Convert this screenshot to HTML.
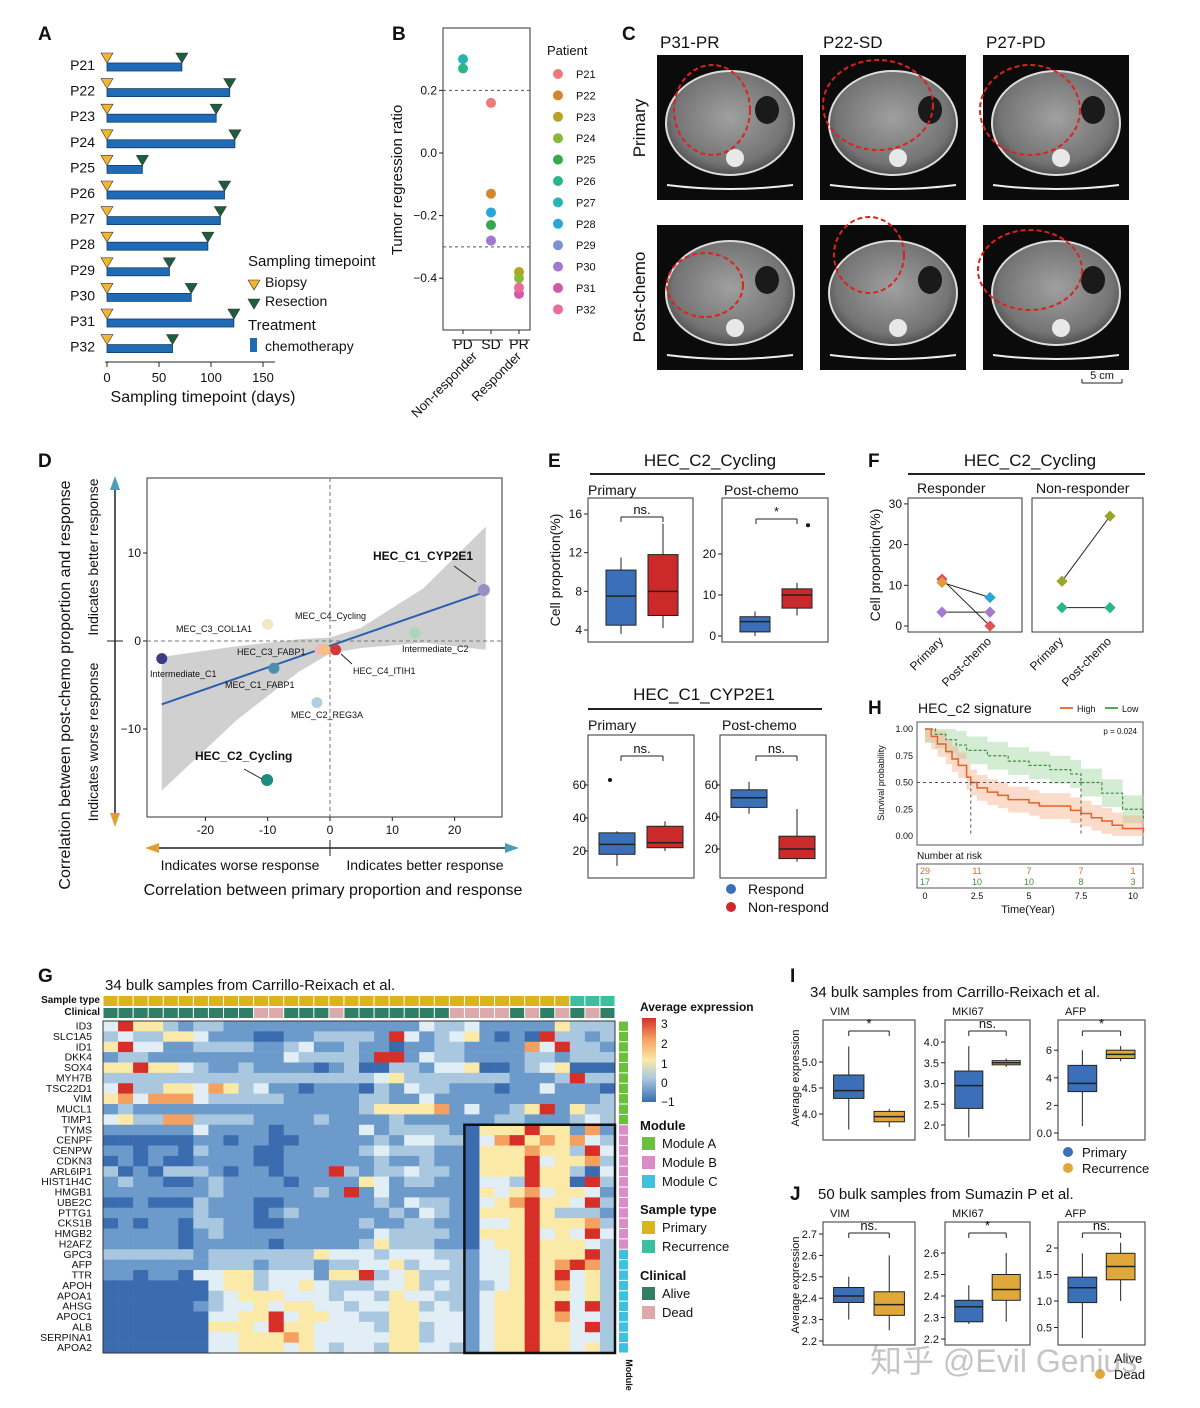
<!DOCTYPE html>
<html><head><meta charset="utf-8">
<style>
html,body{margin:0;padding:0;background:#fff;}
svg{display:block;font-family:"Liberation Sans","Noto Sans CJK SC",sans-serif;}
</style></head>
<body>
<svg id="fig" xmlns="http://www.w3.org/2000/svg" width="1200" height="1408" viewBox="0 0 1200 1408">
<defs>
<radialGradient id="ctg" cx="50%" cy="45%" r="55%"><stop offset="0" stop-color="#a0a0a0"/><stop offset="0.8" stop-color="#747474"/><stop offset="1" stop-color="#505050"/></radialGradient>
</defs>
</svg>
<script>
// ---------------- DATA ----------------
// Panel A
const aPatients=["P21","P22","P23","P24","P25","P26","P27","P28","P29","P30","P31","P32"];
const aDays=[72,118,105,123,34,113,109,97,60,81,122,63];
const aTicks=[0,50,100,150];
// Panel B
const bCats=["PD","SD","PR"];
const bPointCat=[1,1,2,2,1,0,0,1,1,1,2,2];
const bValues=[0.16,-0.13,-0.38,-0.40,-0.23,0.27,0.30,-0.19,-0.28,-0.28,-0.45,-0.43];
const bColors=["#ee7a78","#d6862a","#b5a426","#8ab83a","#34a853","#2bb58a","#26b5b0","#2aa5d8","#7b92d4","#a07ad0","#d05aa8","#ea6c9a"];
const bTicks=[0.2,0.0,-0.2,-0.4];
// Panel D
const dLabels=["Intermediate_C1","MEC_C3_COL1A1","HEC_C3_FABP1","MEC_C4_Cycling","MEC_C1_FABP1","HEC_C4_ITIH1","Intermediate_C2","MEC_C2_REG3A","HEC_C2_Cycling","HEC_C1_CYP2E1"];
const dX=[-27,-10,-9,-1.6,-0.8,0.9,13.6,-2.1,-10.1,24.7];
const dY=[-2,1.9,-3.1,-1,-1,-1,0.9,-7,-15.8,5.8];
const dColors=["#3b3b8a","#efe8c0","#4a8fb0","#f2b8b8","#f3c080","#d03a3a","#a8d8b8","#b0d0e2","#1f8a80","#9b8ec0"];
const dTicksX=[-20,-10,0,10,20];
const dTicksY=[10,0,-10];
// Panel E (box stats: min,q1,med,q3,max)
const e1Blue=[3.6,4.5,7.5,10.2,11.5], e1Red=[4.2,5.5,8,11.8,15];
const e2Blue=[0,1,3.5,4.7,6], e2Red=[5,6.8,10,11.5,13];
const e3Blue=[11,18,24,31,32], e3Red=[20,22,25,35,38];
const e4Blue=[42,46,52,57,62], e4Red=[12,14,20,28,45];
// Panel F
const fRespPrim=[11.5,10.7,3.4], fRespPost=[0,7,3.4], fRespCol=["#e0525a","#e39a3a","#a27ad0"], fRespPostCol=["#e0525a","#2aa5d8","#a27ad0"];
const fNonPrim=[11,4.5], fNonPost=[27,4.5], fNonCol=["#9aa52a","#2bb58a"];
// Panel H
const hHighT=[0,0.3,0.6,1,1.3,1.6,2,2.2,2.5,3,3.5,4,5,5.5,7,7.5,8,8.5,9,9.5,10.5];
const hHighS=[1,0.93,0.86,0.79,0.72,0.66,0.55,0.5,0.45,0.41,0.38,0.34,0.31,0.28,0.24,0.21,0.17,0.14,0.1,0.07,0.03];
const hLowT=[0,0.5,1,1.5,2,3,4,5,6,7,7.5,8.5,9.5,10.5];
const hLowS=[1,0.95,0.9,0.85,0.8,0.75,0.7,0.66,0.62,0.58,0.5,0.4,0.25,0.14];
const hRiskHigh=["29","11","7","7","1"], hRiskLow=["17","10","10","8","3"];
const hTicksX=[0,2.5,5,7.5,10], hTicksY=[1.00,0.75,0.50,0.25,0.00];
// Panel G
const gGenes=["ID3","SLC1A5","ID1","DKK4","SOX4","MYH7B","TSC22D1","VIM","MUCL1","TIMP1","TYMS","CENPF","CENPW","CDKN3","ARL6IP1","HIST1H4C","HMGB1","UBE2C","PTTG1","CKS1B","HMGB2","H2AFZ","GPC3","AFP","TTR","APOH","APOA1","AHSG","APOC1","ALB","SERPINA1","APOA2"];
const gSample="PPPPPPPPPPPPPPPPPPPPPPPPPPPPPPPRRR";
const gClinical="AAAAAAAAAADDAAADAAAAAAADDDDADADADA";
const gMatrix=[
"3644212211111111111113223111114222","2322443111001122221631234101062212","4633112222112311211011221111536221","1221111111113222216613221111221222","4464432112111101200221334001234000","2222222222222222223422222221112622","3622443542311011102132211101131110","4535553222221111122113111111111112","1211111111111111124444513112461422","3422552222111121111211111122111232",
"1111113111101111131222210444644151","0000001101100111112133220356454532","1101102111001111123222110444544263","0101001111001111112112110444634452","2010222101101116212232210444644203","1211001211110111143122110332644062","1111111211111121613111110434534431","0010002111001111112132210345644362","1111112111012111111213210444642221","0101102211001111121122110334644452","1111101211111111113222210444634363","1111101111101111124222110344644432",
"2222221222222243332333221334644462","1111111222122212233423321334645652","1101103344233314462342221334646342","0000000344233432223342321234645342","0000000234443332332433221344644342","0000001233434433233442321344646362","0000000334463443322443331344645332","0000000444364433332442331344644362","0000000334445433333442331344644332","0000000334443432332443321344644342"];
// Panels I, J (min,q1,med,q3,max)
const iVimP=[3.7,4.3,4.45,4.75,5.3], iVimR=[3.75,3.85,3.95,4.05,4.1];
const iMkiP=[1.7,2.4,2.95,3.3,3.9], iMkiR=[3.4,3.45,3.5,3.55,3.6];
const iAfpP=[0.5,3.0,3.6,4.9,6], iAfpR=[5.2,5.4,5.7,6,6.3];
const jVimA=[2.3,2.38,2.41,2.45,2.5], jVimD=[2.25,2.32,2.37,2.43,2.6];
const jMkiA=[2.27,2.28,2.35,2.38,2.45], jMkiD=[2.28,2.38,2.43,2.5,2.6];
const jAfpA=[0.3,0.97,1.25,1.45,1.9], jAfpD=[1.0,1.4,1.65,1.9,2.1];

// ---------------- HELPERS ----------------
const NS="http://www.w3.org/2000/svg";
const svg=document.getElementById('fig');
function add(tag,attrs,name,parent){
  const el=document.createElementNS(NS,tag);
  for(const k in attrs) el.setAttribute(k,attrs[k]);
  
  
  (parent||svg).appendChild(el);
  return el;
}
function tx(x,y,s,size,name,o){
  o=o||{};
  const a={x:x,y:y,'font-size':size,fill:o.fill||'#111'};
  if(o.anchor)a['text-anchor']=o.anchor;
  if(o.weight)a['font-weight']=o.weight;
  if(o.rot!==undefined)a.transform='rotate('+o.rot+' '+x+' '+y+')';
  const el=add('text',a,name);
  el.textContent=s;
  return el;
}
function ln(x1,y1,x2,y2,name,o){
  o=o||{};
  const a={x1:x1,y1:y1,x2:x2,y2:y2,stroke:o.stroke||'#222','stroke-width':o.w||1};
  if(o.dash)a['stroke-dasharray']=o.dash;
  return add('line',a,name);
}
function rc(x,y,w,h,name,o){
  o=o||{};
  const a={x:x,y:y,width:w,height:h,fill:o.fill||'none'};
  if(o.stroke){a.stroke=o.stroke;a['stroke-width']=o.w||1;}
  return add('rect',a,name);
}
function dot(x,y,r,fill,name,o){
  o=o||{};
  const a={cx:x,cy:y,r:r,fill:fill};
  if(o.stroke){a.stroke=o.stroke;a['stroke-width']=o.w||1;}
  return add('circle',a,name);
}
function box(stats,xc,w,ys,fill,name){
  const [mn,q1,md,q3,mx]=stats;
  ln(xc,ys(mx),xc,ys(q3),name+'-whisker-top');
  ln(xc,ys(q1),xc,ys(mn),name+'-whisker-bottom');
  rc(xc-w/2,ys(q3),w,ys(q1)-ys(q3),name,{fill:fill,stroke:'#222'});
  ln(xc-w/2,ys(md),xc+w/2,ys(md),name+'-median',{w:1.5});
}
function sig(x1,x2,y,label,name){
  ln(x1,y,x2,y,name+'-bracket');
  ln(x1,y,x1,y+5,name+'-bracket-l');
  ln(x2,y,x2,y+5,name+'-bracket-r');
  tx((x1+x2)/2,y-3,label,13,name,{anchor:'middle'});
}
function tri(x,y,down,fill,name){
  const p=down?`${x-6},${y-6} ${x+6},${y-6} ${x},${y+4}`:`${x-6},${y+4} ${x+6},${y+4} ${x},${y-6}`;
  return add('polygon',{points:p,fill:fill,stroke:'#333','stroke-width':0.6},name);
}

// ---------------- PANEL A ----------------
tx(38,40,'A',19,'panel-a-label',{weight:'bold'});
const ax=d=>107+d*1.04;
aPatients.forEach((p,i)=>{
  const y=66+i*25.6;
  tx(95,y+4,p,14,'patient-label',{anchor:'end'});
  rc(ax(0),y-3,ax(aDays[i])-ax(0),8,'treatment-bar',{fill:'#1f6bb5',stroke:'#133c66',w:0.8});
  tri(ax(0),y-7,true,'#f2b531','biopsy-marker');
  tri(ax(aDays[i]),y-7,true,'#1d5e3e','resection-marker');
});
ln(105,362,275,362,'x-axis-a');
aTicks.forEach(t=>{ln(ax(t),362,ax(t),367,'x-tick-a');tx(ax(t),382,String(t),13,'x-tick-label-a',{anchor:'middle'});});
tx(203,402,'Sampling timepoint (days)',16,'x-axis-title-a',{anchor:'middle'});
tx(248,266,'Sampling timepoint',15,'legend-title-sampling');
tri(254,286,true,'#f2b531','legend-biopsy-icon');tx(265,287,'Biopsy',14,'legend-biopsy');
tri(254,305,true,'#1d5e3e','legend-resection-icon');tx(265,306,'Resection',14,'legend-resection');
tx(248,330,'Treatment',15,'legend-title-treatment');
rc(250,338,7,14,'legend-chemo-icon',{fill:'#1f6bb5'});tx(265,351,'chemotherapy',14,'legend-chemotherapy');

// ---------------- PANEL B ----------------
tx(392,40,'B',19,'panel-b-label',{weight:'bold'});
const by=v=>153-v*313;
const bx=c=>463+c*28;
rc(443,28,87,302,'plot-frame-b',{stroke:'#333'});
ln(443,by(0.2),530,by(0.2),'threshold-line-upper',{dash:'3,3',stroke:'#555'});
ln(443,by(-0.3),530,by(-0.3),'threshold-line-lower',{dash:'3,3',stroke:'#555'});
bTicks.forEach(t=>{ln(439,by(t),443,by(t),'y-tick-b');tx(437,by(t)+4,(t<0?'−':'')+Math.abs(t).toFixed(1),12,'y-tick-label-b',{anchor:'end'});});
tx(402,180,'Tumor regression ratio',15,'y-axis-title-b',{anchor:'middle',rot:-90});
bCats.forEach((c,i)=>{ln(bx(i),330,bx(i),334,'x-tick-b');tx(bx(i),330+19,c,14,'x-tick-label-b',{anchor:'middle'});});
ln(452,340,503,340,'nonresponder-bar');ln(509,340,530,340,'responder-bar');
tx(478,357,'Non-responder',13,'group-label-nonresponder',{anchor:'end',rot:-45});
tx(522,357,'Responder',13,'group-label-responder',{anchor:'end',rot:-45});
bValues.forEach((v,i)=>dot(bx(bPointCat[i]),by(v),5,bColors[i],'patient-point-'+aPatients[i]));
tx(547,55,'Patient',13,'legend-title-patient');
aPatients.forEach((p,i)=>{dot(558,74+i*21.4,5,bColors[i],'legend-dot');tx(576,78+i*21.4,p,11,'legend-label-patient');});

// ---------------- PANEL C ----------------
tx(622,40,'C',19,'panel-c-label',{weight:'bold'});
const ctTitles=['P31-PR','P22-SD','P27-PD'];
const ctX=[657,820,983];
const ctRed=[[712,110,38,45],[878,105,55,45],[1030,110,50,45],[705,285,38,32],[869,255,35,38],[1030,270,52,40]];
ctTitles.forEach((t,i)=>tx(ctX[i]+3,48,t,17,'ct-column-title'));
tx(645,128,'Primary',17,'row-label-primary',{anchor:'middle',rot:-90});
tx(645,297,'Post-chemo',17,'row-label-postchemo',{anchor:'middle',rot:-90});
[55,225].forEach((y0,r)=>ctX.forEach((x0,c)=>{
  rc(x0,y0,146,145,'ct-scan-image',{fill:'#0b0b0b'});
  add('ellipse',{cx:x0+73,cy:y0+68,rx:64,ry:52,fill:'url(#ctg)',stroke:'#ddd','stroke-width':2},'ct-body');
  dot(x0+78,y0+103,9,'#e8e8e8','ct-spine');
  add('ellipse',{cx:x0+110,cy:y0+55,rx:12,ry:14,fill:'#1a1a1a'},'ct-bowel-gas');
  add('path',{d:`M${x0+10} ${y0+130} Q${x0+73} ${y0+138} ${x0+136} ${y0+130}`,stroke:'#eee','stroke-width':2,fill:'none'},'ct-table');
  const e=ctRed[r*3+c];
  add('ellipse',{cx:e[0],cy:e[1],rx:e[2],ry:e[3],fill:'none',stroke:'#e0201c','stroke-width':2,'stroke-dasharray':'5,3'},'tumor-outline');
}));
ln(1082,383,1122,383,'scale-bar');ln(1082,379,1082,383,'scale-bar-l');ln(1122,379,1122,383,'scale-bar-r');
tx(1102,379,'5 cm',11,'scale-bar-label',{anchor:'middle'});

// ---------------- PANEL D ----------------
tx(38,467,'D',19,'panel-d-label',{weight:'bold'});
const dx=v=>330+v*6.23, dy=v=>641-v*8.8;
rc(147,478,355,339,'plot-frame-d',{stroke:'#333'});
const ribX=[-27,-15,-5,0,5,15,25];
const ribU=[-1.8,-0.6,0.2,0.4,1.5,6,13];
const ribL=[-17,-9,-3.5,-1.4,-0.8,-0.2,-1];
let rp=ribX.map((x,i)=>dx(x)+','+dy(ribU[i])).join(' ')+' '+ribX.slice().reverse().map((x,i)=>dx(x)+','+dy(ribL[ribL.length-1-i])).join(' ');
add('polygon',{points:rp,fill:'#c8c8c8',opacity:0.85},'confidence-band');
ln(dx(0),478,dx(0),817,'zero-line-x',{dash:'4,3',stroke:'#777'});
ln(147,dy(0),502,dy(0),'zero-line-y',{dash:'4,3',stroke:'#777'});
ln(dx(-27),dy(-0.55-27*0.246),dx(25),dy(-0.55+25*0.246),'regression-line',{stroke:'#2b5fb0',w:2});
dTicksX.forEach(t=>{ln(dx(t),817,dx(t),821,'x-tick-d');tx(dx(t),834,String(t),12,'x-tick-label-d',{anchor:'middle'});});
dTicksY.forEach(t=>{ln(143,dy(t),147,dy(t),'y-tick-d');tx(141,dy(t)+4,t<0?'−'+Math.abs(t):String(t),12,'y-tick-label-d',{anchor:'end'});});
dX.forEach((x,i)=>dot(dx(x),dy(dY[i]),i>=8?6:5.5,dColors[i],'cell-type-point'));
const dLab=[[150,677,9,0],[176,632,9,0],[237,655,9,0],[295,619,9,0],[225,688,9,0],[353,674,9,0],[402,652,9,0],[291,718,9,0],[195,760,12,1],[373,560,12,1]];
dLab.forEach((l,i)=>tx(l[0],l[1],dLabels[i],l[2],'cell-type-label',{weight:l[3]?'bold':'normal'}));
ln(454,566,476,582,'annotation-arrow-cyp2e1');ln(244,769,262,779,'annotation-arrow-cycling');ln(341,654,352,664,'annotation-arrow-itih1');
ln(115,488,115,815,'y-response-axis',{w:1.5});
add('polygon',{points:'115,476 110,490 120,490',fill:'#4a9fb8'},'arrow-up');
add('polygon',{points:'115,827 110,813 120,813',fill:'#e0a030'},'arrow-down');
ln(107,641,123,641,'y-response-mid');
tx(98,557,'Indicates better response',14,'y-better-label',{anchor:'middle',rot:-90});
tx(98,742,'Indicates worse response',14,'y-worse-label',{anchor:'middle',rot:-90});
tx(70,685,'Correlation between post-chemo proportion and response',16,'y-axis-title-d',{anchor:'middle',rot:-90});
ln(157,848,507,848,'x-response-axis',{w:1.5});
add('polygon',{points:'145,848 159,843 159,853',fill:'#e0a030'},'arrow-left');
add('polygon',{points:'519,848 505,843 505,853',fill:'#4a9fb8'},'arrow-right');
ln(330,840,330,856,'x-response-mid');
tx(240,870,'Indicates worse response',14,'x-worse-label',{anchor:'middle'});
tx(425,870,'Indicates better response',14,'x-better-label',{anchor:'middle'});
tx(333,895,'Correlation between primary proportion and response',16,'x-axis-title-d',{anchor:'middle'});

// ---------------- PANEL E ----------------
tx(548,467,'E',19,'panel-e-label',{weight:'bold'});
tx(710,466,'HEC_C2_Cycling',17,'panel-e-title-1',{anchor:'middle'});ln(590,474,825,474,'title-underline',{w:2});
tx(588,495,'Primary',14,'facet-label');tx(724,495,'Post-chemo',14,'facet-label');
rc(588,498,105,144,'facet-frame',{stroke:'#333'});rc(722,498,106,144,'facet-frame',{stroke:'#333'});
const e1y=v=>668.7-v*9.67, e2y=v=>636-v*4.1;
[4,8,12,16].forEach(t=>{ln(584,e1y(t),588,e1y(t),'y-tick-e');tx(582,e1y(t)+4,String(t),12,'y-tick-label-e',{anchor:'end'});});
[0,10,20].forEach(t=>{ln(718,e2y(t),722,e2y(t),'y-tick-e');tx(716,e2y(t)+4,String(t),12,'y-tick-label-e',{anchor:'end'});});
tx(560,570,'Cell proportion(%)',14,'y-axis-title-e',{anchor:'middle',rot:-90});
box(e1Blue,621,30,e1y,'#3b70b8','box-respond-primary');box(e1Red,663,30,e1y,'#cc2a2a','box-nonrespond-primary');
box(e2Blue,755,30,e2y,'#3b70b8','box-respond-post');box(e2Red,797,30,e2y,'#cc2a2a','box-nonrespond-post');
dot(808,e2y(27),2,'#111','outlier-point');
sig(621,663,517,'ns.','sig-e1');sig(756,797,519,'*','sig-e2');
tx(704,700,'HEC_C1_CYP2E1',17,'panel-e-title-2',{anchor:'middle'});ln(588,709,822,709,'title-underline',{w:2});
tx(588,730,'Primary',14,'facet-label');tx(722,730,'Post-chemo',14,'facet-label');
rc(588,735,106,143,'facet-frame',{stroke:'#333'});rc(720,735,106,143,'facet-frame',{stroke:'#333'});
const e3y=v=>884-v*1.65, e4y=v=>881-v*1.6;
[20,40,60].forEach(t=>{ln(584,e3y(t),588,e3y(t),'y-tick-e');tx(586,e3y(t)+4,String(t),12,'y-tick-label-e',{anchor:'end'});});
[20,40,60].forEach(t=>{ln(716,e4y(t),720,e4y(t),'y-tick-e');tx(718,e4y(t)+4,String(t),12,'y-tick-label-e',{anchor:'end'});});
box(e3Blue,617,36,e3y,'#3b70b8','box-respond-primary-2');box(e3Red,665,36,e3y,'#cc2a2a','box-nonrespond-primary-2');
box(e4Blue,749,36,e4y,'#3b70b8','box-respond-post-2');box(e4Red,797,36,e4y,'#cc2a2a','box-nonrespond-post-2');
dot(610,e3y(63),2,'#111','outlier-point');
sig(621,663,756,'ns.','sig-e3');sig(756,797,756,'ns.','sig-e4');
dot(731,889,5,'#3b70b8','legend-respond-dot');tx(748,894,'Respond',14,'legend-respond');
dot(731,907,5,'#cc2a2a','legend-nonrespond-dot');tx(748,912,'Non-respond',14,'legend-nonrespond');

// ---------------- PANEL F ----------------
tx(868,467,'F',19,'panel-f-label',{weight:'bold'});
tx(1030,466,'HEC_C2_Cycling',17,'panel-f-title',{anchor:'middle'});ln(908,474,1145,474,'title-underline',{w:2});
tx(917,493,'Responder',14,'facet-label');tx(1036,493,'Non-responder',14,'facet-label');
rc(908,498,114,134,'facet-frame',{stroke:'#333'});rc(1032,498,111,134,'facet-frame',{stroke:'#333'});
const fy=v=>626-v*4.07;
[0,10,20,30].forEach(t=>{ln(904,fy(t),908,fy(t),'y-tick-f');tx(902,fy(t)+4,String(t),12,'y-tick-label-f',{anchor:'end'});});
tx(880,565,'Cell proportion(%)',14,'y-axis-title-f',{anchor:'middle',rot:-90});
const fPairs=[[0,0],[1,1],[2,2]];
fPairs.forEach(([a,b])=>ln(942,fy(fRespPrim[a]),990,fy(fRespPost[b]),'patient-line'));
fRespPrim.forEach((v,i)=>add('rect',{x:938,y:fy(v)-4,width:8,height:8,fill:fRespCol[i],transform:`rotate(45 942 ${fy(v)})`},'primary-point'));
fRespPost.forEach((v,i)=>add('rect',{x:986,y:fy(v)-4,width:8,height:8,fill:fRespPostCol[i],transform:`rotate(45 990 ${fy(v)})`},'post-point'));
fNonPrim.forEach((v,i)=>{ln(1062,fy(v),1110,fy(fNonPost[i]),'patient-line');
  add('rect',{x:1058,y:fy(v)-4,width:8,height:8,fill:fNonCol[i],transform:`rotate(45 1062 ${fy(v)})`},'primary-point');
  add('rect',{x:1106,y:fy(fNonPost[i])-4,width:8,height:8,fill:fNonCol[i],transform:`rotate(45 1110 ${fy(fNonPost[i])})`},'post-point');});
[[942,'Primary'],[990,'Post-chemo'],[1062,'Primary'],[1110,'Post-chemo']].forEach(([x,s])=>tx(x+2,642,s,12,'x-tick-label-f',{anchor:'end',rot:-45}));

// ---------------- PANEL H ----------------
tx(868,714,'H',19,'panel-h-label',{weight:'bold'});
tx(918,713,'HEC_c2 signature',14,'panel-h-title');
ln(1060,708,1073,708,'legend-high-line',{stroke:'#e8753a',w:2});tx(1077,712,'High',9,'legend-high');
ln(1105,708,1118,708,'legend-low-line',{stroke:'#5aa85a',w:2});tx(1122,712,'Low',9,'legend-low');
const hx=t=>925+t*20.8, hy=s=>836-s*107;
rc(917,722,226,123,'plot-frame-h',{stroke:'#555'});
function stepPath(T,S,off){let d=`M${hx(T[0])} ${hy(Math.min(1,Math.max(0,S[0]+off)))}`;for(let i=1;i<T.length;i++){d+=` H${hx(T[i])} V${hy(Math.min(1,Math.max(0,S[i]+off)))}`;}return d+` H${hx(10.5)}`;}
function ribbon(T,S,w,fill,name){let up=stepPath(T,S,w);let lo=[];for(let i=T.length-1;i>=0;i--){const v=hy(Math.max(0,S[i]-w));lo.push(`${hx(i+1<T.length?T[i+1]:10.5)},${v} ${hx(T[i])},${v}`);}add('path',{d:up+' L'+lo.join(' L')+' Z',fill:fill,opacity:0.45},name);}
ribbon(hLowT,hLowS,0.13,'#9fd39f','low-ribbon');
ribbon(hHighT,hHighS,0.12,'#f6b08a','high-ribbon');
add('path',{d:stepPath(hLowT,hLowS,0),fill:'none',stroke:'#3f8f3f','stroke-width':1.2,'stroke-dasharray':'3,2'},'low-curve');
add('path',{d:stepPath(hHighT,hHighS,0),fill:'none',stroke:'#e8612a','stroke-width':1.5},'high-curve');
ln(917,hy(0.5),hx(7.5),hy(0.5),'median-line',{dash:'3,3',stroke:'#555'});
ln(hx(2.2),hy(0.5),hx(2.2),836,'median-high',{dash:'3,3',stroke:'#555'});
ln(hx(7.5),hy(0.5),hx(7.5),836,'median-low',{dash:'3,3',stroke:'#555'});
hTicksY.forEach(t=>tx(913,hy(t)+3,t.toFixed(2),9,'y-tick-label-h',{anchor:'end'}));
tx(884,783,'Survival probability',9,'y-axis-title-h',{anchor:'middle',rot:-90});
tx(1137,734,'p = 0.024',8,'p-value',{anchor:'end'});
tx(917,859,'Number at risk',10,'risk-table-title');
rc(917,864,226,24,'risk-table-frame',{stroke:'#555'});
hTicksX.forEach((t,i)=>{tx(hx(t),874,hRiskHigh[i],9,'risk-high',{anchor:'middle',fill:'#e8612a'});tx(hx(t),885,hRiskLow[i],9,'risk-low',{anchor:'middle',fill:'#3f8f3f'});tx(hx(t),899,String(t),9,'x-tick-label-h',{anchor:'middle'});});
tx(1028,913,'Time(Year)',11,'x-axis-title-h',{anchor:'middle'});

// ---------------- PANEL G ----------------
tx(38,982,'G',19,'panel-g-label',{weight:'bold'});
tx(105,990,'34 bulk samples from Carrillo-Reixach et al.',15,'panel-g-title');
tx(100,1003,'Sample type',10,'annotation-label-sample',{anchor:'end',weight:'bold'});
tx(100,1015,'Clinical',10,'annotation-label-clinical',{anchor:'end',weight:'bold'});
const cw=512/34, rh=332/32, gx0=103, gy0=1021;
const hcol=['#3b6cb0','#6b9acb','#a9c8e0','#e2eef5','#fbe9a8','#f4a060','#d62f27'];
gSample.split('').forEach((s,j)=>rc(gx0+j*cw+0.5,996,cw-1,10,'sample-type-cell',{fill:s==='P'?'#d9b41c':'#3cbfa0'}));
gClinical.split('').forEach((s,j)=>rc(gx0+j*cw+0.5,1008,cw-1,10,'clinical-cell',{fill:s==='A'?'#2e7f66':'#dcaaaa'}));
gMatrix.forEach((row,i)=>{
  row.padEnd(34,'2').slice(0,34).split('').forEach((c,j)=>rc(gx0+j*cw,gy0+i*rh,cw+0.3,rh+0.3,'heatmap-cell',{fill:hcol[+c]}));
  tx(92,gy0+i*rh+8.5,gGenes[i],10.5,'gene-label',{anchor:'end'});
  rc(619,gy0+i*rh+0.5,9,rh-1,'module-cell',{fill:i<10?'#6cbf3a':(i<22?'#d88cc8':'#40c0e0')});
});
rc(gx0,gy0,512,332,'heatmap-frame',{stroke:'#333'});
rc(gx0+24*cw,gy0+10*rh,10*cw,22*rh,'highlight-box',{stroke:'#111',w:2.5});
tx(626,1375,'Module',9,'module-axis-label',{anchor:'middle',rot:90,weight:'bold'});
tx(640,1011,'Average expression',12,'legend-title-expression',{weight:'bold'});
const cb=add('linearGradient',{id:'cbg',x1:0,y1:0,x2:0,y2:1},'colorbar-gradient',svg.querySelector('defs'));
[['0','#d62f27'],['0.25','#f4a060'],['0.5','#fbe9a8'],['0.72','#a9c8e0'],['1','#3b6cb0']].forEach(([o,c])=>add('stop',{offset:o,'stop-color':c},'colorbar-stop',cb));
rc(642,1018,14,84,'colorbar',{fill:'url(#cbg)'});
[['3',1024],['2',1044],['1',1064],['0',1083],['−1',1102]].forEach(([s,y])=>tx(661,y+4,s,12,'colorbar-tick-label'));
tx(640,1130,'Module',13,'legend-title-module',{weight:'bold'});
[['Module A','#6cbf3a'],['Module B','#d88cc8'],['Module C','#40c0e0']].forEach(([s,c],i)=>{rc(642,1137+i*19,13,13,'legend-module-swatch',{fill:c});tx(662,1148+i*19,s,13,'legend-module-label');});
tx(640,1214,'Sample type',13,'legend-title-sampletype',{weight:'bold'});
[['Primary','#d9b41c'],['Recurrence','#3cbfa0']].forEach(([s,c],i)=>{rc(642,1221+i*19,13,13,'legend-sample-swatch',{fill:c});tx(662,1232+i*19,s,13,'legend-sample-label');});
tx(640,1280,'Clinical',13,'legend-title-clinical',{weight:'bold'});
[['Alive','#2e7f66'],['Dead','#dcaaaa']].forEach(([s,c],i)=>{rc(642,1287+i*19,13,13,'legend-clinical-swatch',{fill:c});tx(662,1298+i*19,s,13,'legend-clinical-label');});

// ---------------- PANELS I, J ----------------
function miniPanel(x0,x1,y0,y1,title,ticks,ys,b1,b2,c1,c2,sg,name){
  tx(x0+7,y0-5,title,11,name+'-title');
  rc(x0,y0,x1-x0,y1-y0,name+'-frame',{stroke:'#333'});
  ticks.forEach(t=>{ln(x0-4,ys(t),x0,ys(t),name+'-tick');tx(x0-6,ys(t)+4,t.toFixed(t%1===0&&t>=2&&name.includes('afp')?0:1),11,name+'-tick-label',{anchor:'end'});});
  const w=(x1-x0)*0.33, c1x=x0+(x1-x0)*0.28, c2x=x0+(x1-x0)*0.72;
  box(b1,c1x,w,ys,c1,name+'-box-1');box(b2,c2x,w,ys,c2,name+'-box-2');
  sig(c1x,c2x,y0+11,sg,name+'-sig');
}
tx(790,982,'I',19,'panel-i-label',{weight:'bold'});
tx(810,997,'34 bulk samples from Carrillo-Reixach et al.',15,'panel-i-title');
tx(799,1078,'Average expression',11,'y-axis-title-i',{anchor:'middle',rot:-90});
miniPanel(823,915,1020,1140,'VIM',[4.0,4.5,5.0],v=>1114-(v-4)*52,iVimP,iVimR,'#3b70b8','#e0a83a','*','i-vim');
miniPanel(945,1030,1020,1140,'MKI67',[2.0,2.5,3.0,3.5,4.0],v=>1125-(v-2)*41.5,iMkiP,iMkiR,'#3b70b8','#e0a83a','ns.','i-mki67');
miniPanel(1058,1145,1020,1140,'AFP',[0,2,4,6],v=>1133-v*13.8,iAfpP,iAfpR,'#3b70b8','#e0a83a','*','i-afp');
dot(1068,1152,5,'#3b70b8','legend-primary-dot');tx(1082,1157,'Primary',13,'legend-primary');
dot(1068,1168,5,'#e0a83a','legend-recurrence-dot');tx(1082,1173,'Recurrence',13,'legend-recurrence');
tx(790,1200,'J',19,'panel-j-label',{weight:'bold'});
tx(818,1199,'50 bulk samples from Sumazin P et al.',15,'panel-j-title');
tx(799,1285,'Average expression',11,'y-axis-title-j',{anchor:'middle',rot:-90});
miniPanel(823,915,1222,1345,'VIM',[2.2,2.3,2.4,2.5,2.6,2.7],v=>1341-(v-2.2)*214,jVimA,jVimD,'#3b70b8','#e0a83a','ns.','j-vim');
miniPanel(945,1030,1222,1345,'MKI67',[2.2,2.3,2.4,2.5,2.6],v=>1339-(v-2.2)*215,jMkiA,jMkiD,'#3b70b8','#e0a83a','*','j-mki67');
miniPanel(1058,1145,1222,1345,'AFP',[0.5,1.0,1.5,2.0],v=>1354-v*53,jAfpA,jAfpD,'#3b70b8','#e0a83a','ns.','j-afp');
dot(1100,1374,5,'#e0a83a','legend-dead-dot');tx(1114,1379,'Dead',13,'legend-dead');
tx(1114,1363,'Alive',13,'legend-alive');
tx(870,1372,'知乎 @Evil Genius',32,'watermark',{fill:'rgba(150,150,150,0.55)'});
</script>
</body></html>
